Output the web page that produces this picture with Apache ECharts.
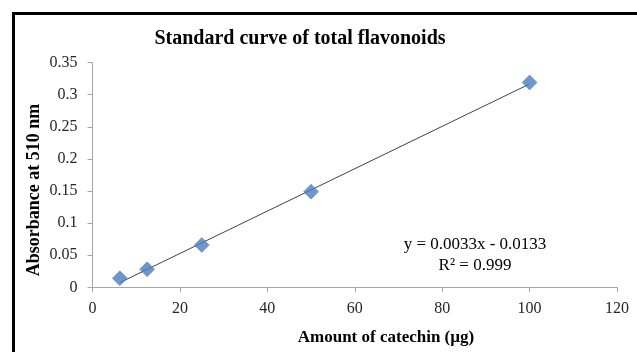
<!DOCTYPE html>
<html><head><meta charset="utf-8">
<script src="https://cdn.jsdelivr.net/npm/echarts@6/dist/echarts.min.js"></script>
<style>html,body{margin:0;padding:0;background:#fff}#c{width:637px;height:352px}</style>
</head><body><div id="c"></div>
<script>
const amounts = [6.25, 12.5, 25, 50, 100];
const absorbance = [0.014, 0.028, 0.066, 0.149, 0.319];
const slope = 0.0033, intercept = -0.0133;
const trendX = [6.25, 100];
const xTicks = [0, 20, 40, 60, 80, 100, 120];
const yTicks = [0, 0.05, 0.1, 0.15, 0.2, 0.25, 0.3, 0.35];
const titleText = 'Standard curve of total flavonoids';
const xName = 'Amount of catechin (µg)';
const yName = 'Absorbance at 510 nm';
const eqLine1 = 'y = 0.0033x - 0.0133';
const eqLine2 = 'R² = 0.999';

const serif = '"Liberation Serif", "Times New Roman", serif';
const chart = echarts.init(document.getElementById('c'));
const trendData = trendX.map(x => [x, slope * x + intercept]);
chart.setOption({
  animation: false,
  grid: {left: 92.5, right: 20, top: 62.6, bottom: 64.7},
  xAxis: {
    type: 'value', min: xTicks[0], max: xTicks[xTicks.length - 1], interval: xTicks[1] - xTicks[0],
    axisLine: {lineStyle: {color: '#a6a6a6'}},
    axisTick: {show: true, length: 5, lineStyle: {color: '#a6a6a6'}},
    splitLine: {show: false},
    axisLabel: {fontFamily: serif, fontSize: 16, color: '#262626', margin: 13}
  },
  yAxis: {
    type: 'value', min: yTicks[0], max: yTicks[yTicks.length - 1], interval: 0.05,
    axisLine: {show: true, lineStyle: {color: '#a6a6a6'}},
    axisTick: {show: true, length: 5, lineStyle: {color: '#a6a6a6'}},
    splitLine: {show: false},
    axisLabel: {fontFamily: serif, fontSize: 16, color: '#262626', margin: 15,
      formatter: v => String(+v.toFixed(2))}
  },
  series: [
    {type: 'line', data: trendData, symbol: 'none', lineStyle: {color: '#404040', width: 1}, z: 2},
    {type: 'scatter', data: amounts.map((x, i) => [x, absorbance[i]]), symbol: 'diamond',
     symbolSize: [15, 15], itemStyle: {color: '#4a7ebb', borderColor: '#3d6ea8', borderWidth: 0.5}, z: 3}
  ],
  graphic: [
    {type: 'rect', shape: {x: 13.5, y: 13.5, width: 700, height: 400},
     style: {fill: 'none', stroke: '#000', lineWidth: 3}, silent: true},
    {type: 'text', x: 300, y: 39, style: {text: titleText, font: 'bold 20px ' + serif,
      fill: '#000', align: 'center', verticalAlign: 'middle'}},
    {type: 'text', x: 386, y: 338, style: {text: xName, font: 'bold 17px ' + serif,
      fill: '#000', align: 'center', verticalAlign: 'middle'}},
    {type: 'text', x: 34, y: 190, rotation: Math.PI / 2, style: {text: yName, font: 'bold 18px ' + serif,
      fill: '#000', align: 'center', verticalAlign: 'middle'}},
    {type: 'text', x: 475, y: 245, style: {text: eqLine1, font: '17px ' + serif,
      fill: '#000', align: 'center', verticalAlign: 'middle'}},
    {type: 'text', x: 475, y: 266, style: {text: eqLine2, font: '17px ' + serif,
      fill: '#000', align: 'center', verticalAlign: 'middle'}}
  ]
});
</script></body></html>
